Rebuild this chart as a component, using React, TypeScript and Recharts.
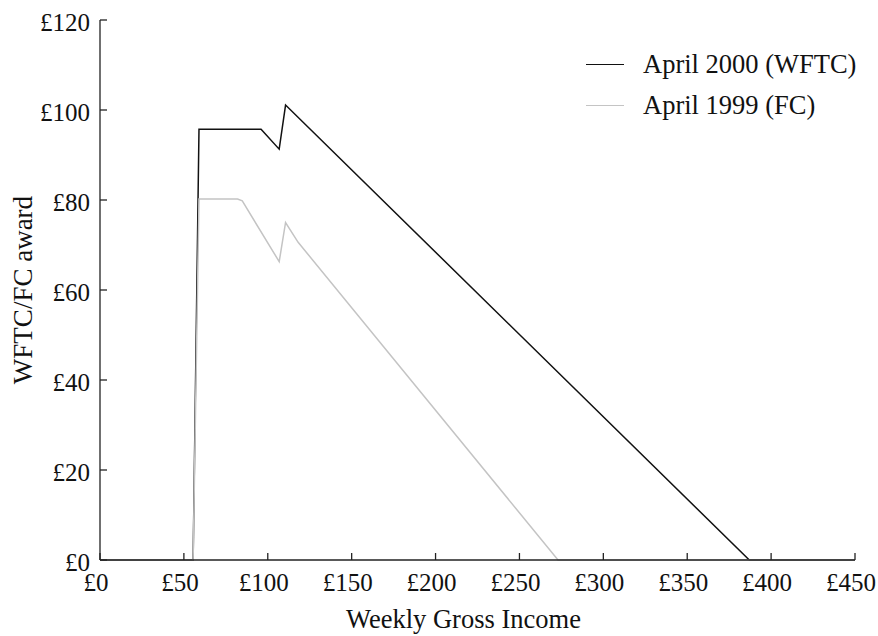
import { LineChart, Line, XAxis, YAxis, Legend } from 'recharts';

// WFTC (April 2000) schedule
const wftcIncome = [0, 55.5, 59, 96, 106.8, 110.6, 387, 450];
const wftcAward = [0, 0, 95.7, 95.7, 91.3, 101.1, 0, 0];

// FC (April 1999) schedule
const fcIncome = [0, 55.5, 59, 82, 84.8, 106.8, 110.6, 118.1, 273, 450];
const fcAward = [0, 0, 80.2, 80.2, 79.8, 66.3, 75, 70.6, 0, 0];

const xTicks = [0, 50, 100, 150, 200, 250, 300, 350, 400, 450];
const yTicks = [0, 20, 40, 60, 80, 100, 120];

const seriesNames = ['April 2000 (WFTC)', 'April 1999 (FC)'];
const seriesColors = ['#111111', '#c4c4c4'];

const wftcData = wftcIncome.map((income, i) => ({ income, award: wftcAward[i] }));
const fcData = fcIncome.map((income, i) => ({ income, award: fcAward[i] }));

const FONT = '"Liberation Serif", "Times New Roman", serif';

const pounds = (v: number) => `£${v}`;

function renderLegend() {
  return (
    <div style={{ fontFamily: FONT, fontSize: 26.5, color: '#111' }}>
      {seriesNames.map((name, i) => (
        <div key={name} style={{ display: 'flex', alignItems: 'center', height: 41 }}>
          <div style={{ width: 38, borderTop: `1.5px solid ${seriesColors[i]}` }} />
          <span style={{ marginLeft: 19, whiteSpace: 'nowrap' }}>{name}</span>
        </div>
      ))}
    </div>
  );
}

export default function App() {
  const tickStyle = { fill: '#111', fontSize: 25, fontFamily: FONT };
  return (
    <div style={{ position: 'absolute', left: 0, top: 0, width: 878, height: 636, background: '#fff', fontFamily: FONT }}>
      <LineChart width={878} height={636} margin={{ top: 20, right: 23, left: 10, bottom: 6 }}>
        <XAxis
          dataKey="income"
          type="number"
          domain={[0, 450]}
          ticks={xTicks}
          interval={0}
          tickFormatter={pounds}
          height={70}
          tickSize={-7}
          tickMargin={20}
          tick={{ ...tickStyle, dx: -4 }}
          axisLine={{ stroke: '#222', strokeWidth: 1.3 }}
          tickLine={{ stroke: '#222', strokeWidth: 1.3 }}
          label={{ value: 'Weekly Gross Income', position: 'insideBottom', offset: 2, dx: -14, fill: '#111', fontSize: 26.5, fontFamily: FONT }}
        />
        <YAxis
          type="number"
          domain={[0, 120]}
          ticks={yTicks}
          interval={0}
          tickFormatter={pounds}
          width={90}
          tickSize={-7}
          tickMargin={17}
          tick={{ ...tickStyle, dy: 2 }}
          axisLine={{ stroke: '#222', strokeWidth: 1.3 }}
          tickLine={{ stroke: '#222', strokeWidth: 1.3 }}
          label={{ value: 'WFTC/FC award', angle: -90, position: 'insideLeft', offset: 12, fill: '#111', fontSize: 27, fontFamily: FONT, style: { textAnchor: 'middle' } }}
        />
        <Legend
          content={renderLegend}
          layout="vertical"
          align="center"
          verticalAlign="middle"
          wrapperStyle={{ position: 'absolute', left: 586, top: 44, width: 290 }}
        />
        <Line
          data={wftcData}
          dataKey="award"
          name={seriesNames[0]}
          type="linear"
          stroke={seriesColors[0]}
          strokeWidth={1.5}
          dot={false}
          activeDot={false}
          isAnimationActive={false}
        />
        <Line
          data={fcData}
          dataKey="award"
          name={seriesNames[1]}
          type="linear"
          stroke={seriesColors[1]}
          strokeWidth={1.5}
          dot={false}
          activeDot={false}
          isAnimationActive={false}
        />
      </LineChart>
    </div>
  );
}
